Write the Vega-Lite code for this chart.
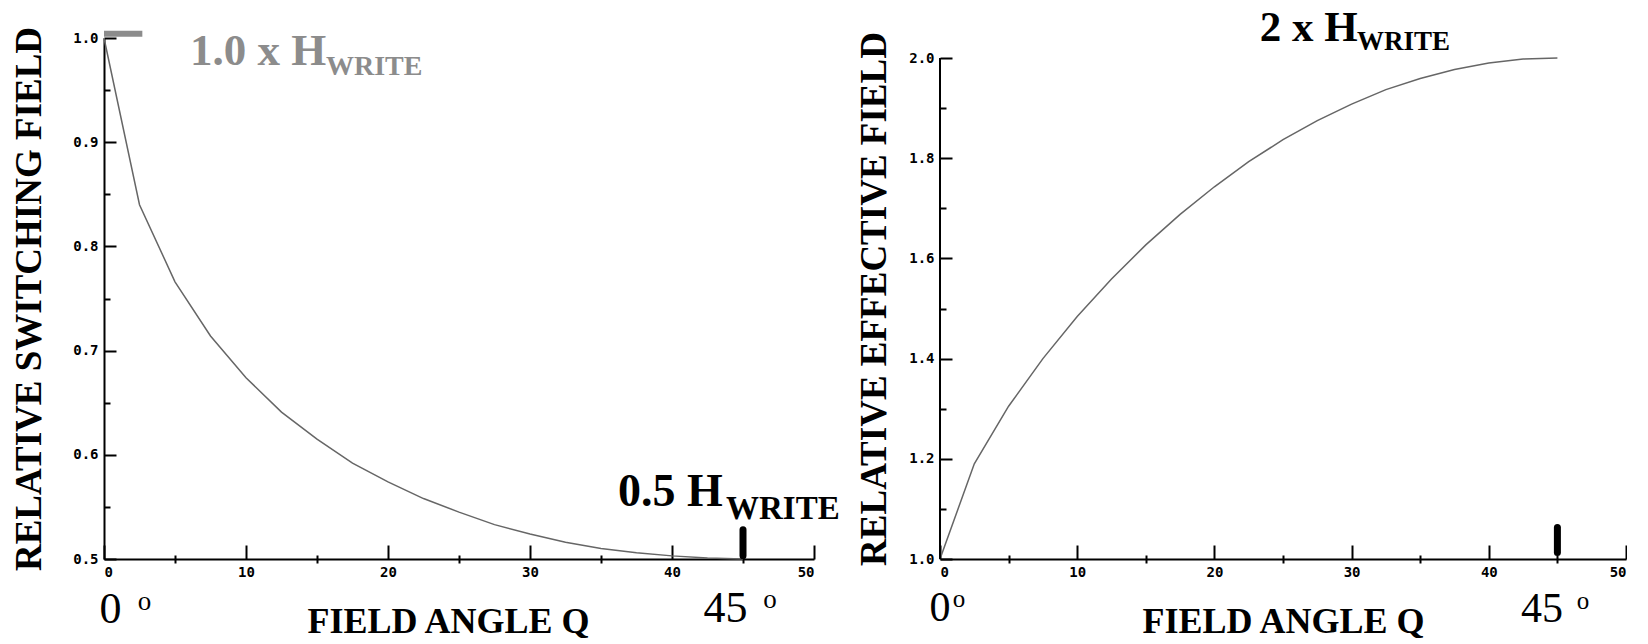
{
  "$schema": "https://vega.github.io/schema/vega-lite/v6.json",
  "background": "white",
  "padding": {"left": 10, "top": 7, "right": 0, "bottom": 0},
  "bounds": "flush",
  "spacing": 126,
  "config": {
    "view": {"stroke": null},
    "axis": {
      "grid": false,
      "domainColor": "black",
      "domainWidth": 2,
      "tickColor": "black",
      "tickWidth": 2,
      "labelFont": "DejaVu Sans Mono",
      "labelFontWeight": "bold",
      "labelFontSize": 14,
      "labelColor": "black",
      "titleFont": "Liberation Serif",
      "titleFontWeight": "bold",
      "titleFontSize": 37,
      "titleColor": "black"
    },
    "text": {"font": "Liberation Serif", "baseline": "alphabetic"}
  },
  "datasets": {
    "switching": [
      {"angle": 0, "field": 1.0},
      {"angle": 2.5, "field": 0.840},
      {"angle": 5, "field": 0.766},
      {"angle": 7.5, "field": 0.714},
      {"angle": 10, "field": 0.674},
      {"angle": 12.5, "field": 0.641},
      {"angle": 15, "field": 0.615},
      {"angle": 17.5, "field": 0.592},
      {"angle": 20, "field": 0.574},
      {"angle": 22.5, "field": 0.558},
      {"angle": 25, "field": 0.545},
      {"angle": 27.5, "field": 0.533},
      {"angle": 30, "field": 0.524},
      {"angle": 32.5, "field": 0.516},
      {"angle": 35, "field": 0.510},
      {"angle": 37.5, "field": 0.506},
      {"angle": 40, "field": 0.503},
      {"angle": 42.5, "field": 0.501},
      {"angle": 45, "field": 0.500}
    ],
    "effective": [
      {"angle": 0, "field": 1.0},
      {"angle": 2.5, "field": 1.190},
      {"angle": 5, "field": 1.305},
      {"angle": 7.5, "field": 1.400},
      {"angle": 10, "field": 1.484},
      {"angle": 12.5, "field": 1.559},
      {"angle": 15, "field": 1.627},
      {"angle": 17.5, "field": 1.688},
      {"angle": 20, "field": 1.743},
      {"angle": 22.5, "field": 1.793},
      {"angle": 25, "field": 1.837},
      {"angle": 27.5, "field": 1.875},
      {"angle": 30, "field": 1.908},
      {"angle": 32.5, "field": 1.937},
      {"angle": 35, "field": 1.959},
      {"angle": 37.5, "field": 1.977},
      {"angle": 40, "field": 1.990},
      {"angle": 42.5, "field": 1.998},
      {"angle": 45, "field": 2.0}
    ]
  },
  "hconcat": [
    {
      "width": 710,
      "height": 521,
      "resolve": {"axis": {"x": "independent", "y": "independent"}},
      "layer": [
        {
          "data": {"name": "switching"},
          "mark": {"type": "line", "stroke": "#666666", "strokeWidth": 1.5, "clip": false},
          "encoding": {
            "x": {"field": "angle", "type": "quantitative",
              "scale": {"domain": [0, 50], "nice": false},
              "axis": {"orient": "bottom", "values": [0, 10, 20, 30, 40, 50], "format": "d", "tickSize": -14, "labelPadding": 20, "title": "FIELD ANGLE Q", "titleFontSize": 36, "titlePadding": 25, "titleX": 344}},
            "y": {"field": "field", "type": "quantitative",
              "scale": {"domain": [0.5, 1.0], "nice": false, "zero": false},
              "axis": {"orient": "left", "values": [0.5, 0.6, 0.7, 0.8, 0.9, 1.0], "format": ".1f", "tickSize": -12, "labelPadding": 18, "title": "RELATIVE SWITCHING FIELD", "titlePadding": 24.5}}
          }
        },
        {
          "data": {"values": [{"angle": 45, "y1": 0.503, "y2": 0.528}]},
          "mark": {"type": "rule", "stroke": "black", "strokeWidth": 7, "strokeCap": "round"},
          "encoding": {
            "x": {"field": "angle", "type": "quantitative",
              "axis": {"orient": "bottom", "values": [5, 15, 25, 35, 45], "labels": false, "domain": false, "tickSize": -8, "offset": 4, "title": null}},
            "y": {"field": "y1", "type": "quantitative",
              "axis": {"orient": "left", "values": [0.55, 0.65, 0.75, 0.85, 0.95], "labels": false, "domain": false, "tickSize": -6, "title": null}},
            "y2": {"field": "y2"}
          }
        },
        {
          "data": {"values": [{"a1": 0, "a2": 2.7, "level": 1.004}]},
          "mark": {"type": "rule", "stroke": "#8c8c8c", "strokeWidth": 6, "clip": false},
          "encoding": {
            "x": {"field": "a1", "type": "quantitative", "axis": null},
            "x2": {"field": "a2"},
            "y": {"field": "level", "type": "quantitative", "axis": null}
          }
        },
        {
          "data": {"values": [{"angle": 6.06, "level": 0.974, "label": "1.0 x H"}]},
          "mark": {"type": "text", "fontSize": 45, "fontWeight": "bold", "color": "#8c8c8c", "align": "left", "clip": false},
          "encoding": {
            "x": {"field": "angle", "type": "quantitative", "axis": null},
            "y": {"field": "level", "type": "quantitative", "axis": null},
            "text": {"field": "label"}
          }
        },
        {
          "data": {"values": [{"angle": 15.63, "level": 0.9645, "label": "WRITE"}]},
          "mark": {"type": "text", "fontSize": 28, "fontWeight": "bold", "color": "#8c8c8c", "align": "left", "clip": false},
          "encoding": {
            "x": {"field": "angle", "type": "quantitative", "axis": null},
            "y": {"field": "level", "type": "quantitative", "axis": null},
            "text": {"field": "label"}
          }
        },
        {
          "data": {"values": [{"angle": 36.2, "level": 0.551, "label": "0.5 H"}]},
          "mark": {"type": "text", "fontSize": 46, "fontWeight": "bold", "color": "black", "align": "left", "clip": false},
          "encoding": {
            "x": {"field": "angle", "type": "quantitative", "axis": null},
            "y": {"field": "level", "type": "quantitative", "axis": null},
            "text": {"field": "label"}
          }
        },
        {
          "data": {"values": [{"angle": 43.8, "level": 0.538, "label": "WRITE"}]},
          "mark": {"type": "text", "fontSize": 33, "fontWeight": "bold", "color": "black", "align": "left", "clip": false},
          "encoding": {
            "x": {"field": "angle", "type": "quantitative", "axis": null},
            "y": {"field": "level", "type": "quantitative", "axis": null},
            "text": {"field": "label"}
          }
        },
        {
          "data": {"values": [{"angle": 0.46, "level": 0.4386, "label": "0"}, {"angle": 43.77, "level": 0.4395, "label": "45"}]},
          "mark": {"type": "text", "fontSize": 44, "color": "black", "align": "center", "clip": false},
          "encoding": {
            "x": {"field": "angle", "type": "quantitative", "axis": null},
            "y": {"field": "level", "type": "quantitative", "axis": null},
            "text": {"field": "label"}
          }
        },
        {
          "data": {"values": [{"angle": 2.85, "level": 0.451, "label": "o"}, {"angle": 46.9, "level": 0.453, "label": "o"}]},
          "mark": {"type": "text", "fontSize": 27, "color": "black", "align": "center", "clip": false},
          "encoding": {
            "x": {"field": "angle", "type": "quantitative", "axis": null},
            "y": {"field": "level", "type": "quantitative", "axis": null},
            "text": {"field": "label"}
          }
        }
      ]
    },
    {
      "width": 686,
      "height": 521,
      "resolve": {"axis": {"x": "independent", "y": "independent"}},
      "layer": [
        {
          "data": {"name": "effective"},
          "mark": {"type": "line", "stroke": "#666666", "strokeWidth": 1.5, "clip": false},
          "encoding": {
            "x": {"field": "angle", "type": "quantitative",
              "scale": {"domain": [0, 50], "nice": false},
              "axis": {"orient": "bottom", "values": [0, 10, 20, 30, 40, 50], "format": "d", "tickSize": -14, "labelPadding": 20, "title": "FIELD ANGLE Q", "titleFontSize": 36, "titlePadding": 25}},
            "y": {"field": "field", "type": "quantitative",
              "scale": {"domain": [1.0, 2.04], "nice": false, "zero": false},
              "axis": {"orient": "left", "values": [1.0, 1.2, 1.4, 1.6, 1.8, 2.0], "format": ".1f", "tickSize": -12, "labelPadding": 18, "domain": false, "title": "RELATIVE EFFECTIVE FIELD", "titlePadding": 15}}
          }
        },
        {
          "data": {"values": [{"angle": 0, "y1": 1.0, "y2": 2.0}]},
          "mark": {"type": "rule", "stroke": "black", "strokeWidth": 2},
          "encoding": {
            "x": {"field": "angle", "type": "quantitative",
              "axis": {"orient": "bottom", "values": [5, 15, 25, 35, 45], "labels": false, "domain": false, "tickSize": -8, "offset": 4, "title": null}},
            "y": {"field": "y1", "type": "quantitative",
              "axis": {"orient": "left", "values": [1.1, 1.3, 1.5, 1.7, 1.9], "labels": false, "domain": false, "tickSize": -6, "title": null}},
            "y2": {"field": "y2"}
          }
        },
        {
          "data": {"values": [{"angle": 45, "y1": 1.013, "y2": 1.063}]},
          "mark": {"type": "rule", "stroke": "black", "strokeWidth": 7, "strokeCap": "round"},
          "encoding": {
            "x": {"field": "angle", "type": "quantitative", "axis": null},
            "y": {"field": "y1", "type": "quantitative", "axis": null},
            "y2": {"field": "y2"}
          }
        },
        {
          "data": {"values": [{"angle": 23.3, "level": 2.034, "label": "2 x H"}]},
          "mark": {"type": "text", "fontSize": 43, "fontWeight": "bold", "color": "black", "align": "left", "clip": false},
          "encoding": {
            "x": {"field": "angle", "type": "quantitative", "axis": null},
            "y": {"field": "level", "type": "quantitative", "axis": null},
            "text": {"field": "label"}
          }
        },
        {
          "data": {"values": [{"angle": 30.4, "level": 2.016, "label": "WRITE"}]},
          "mark": {"type": "text", "fontSize": 27, "fontWeight": "bold", "color": "black", "align": "left", "clip": false},
          "encoding": {
            "x": {"field": "angle", "type": "quantitative", "axis": null},
            "y": {"field": "level", "type": "quantitative", "axis": null},
            "text": {"field": "label"}
          }
        },
        {
          "data": {"values": [{"angle": 0.0, "level": 0.8765, "label": "0"}, {"angle": 43.88, "level": 0.8745, "label": "45"}]},
          "mark": {"type": "text", "fontSize": 42, "color": "black", "align": "center", "clip": false},
          "encoding": {
            "x": {"field": "angle", "type": "quantitative", "axis": null},
            "y": {"field": "level", "type": "quantitative", "axis": null},
            "text": {"field": "label"}
          }
        },
        {
          "data": {"values": [{"angle": 1.38, "level": 0.904, "label": "o"}, {"angle": 46.87, "level": 0.9004, "label": "o"}]},
          "mark": {"type": "text", "fontSize": 25, "color": "black", "align": "center", "clip": false},
          "encoding": {
            "x": {"field": "angle", "type": "quantitative", "axis": null},
            "y": {"field": "level", "type": "quantitative", "axis": null},
            "text": {"field": "label"}
          }
        }
      ]
    }
  ]
}
